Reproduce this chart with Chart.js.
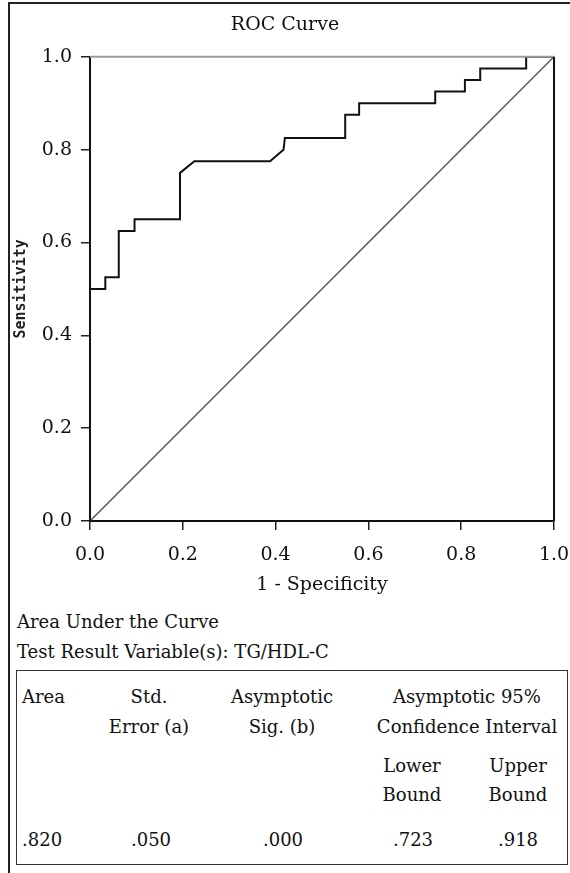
<!DOCTYPE html>
<html>
<head>
<meta charset="utf-8">
<script src="https://cdn.jsdelivr.net/npm/chart.js@4.4.1/dist/chart.umd.min.js"></script>
<style>
  body { margin: 0; background: #fff; }
  #page { position: relative; width: 570px; height: 873px; overflow: hidden; font-family: "DejaVu Serif", serif; color: #111; }
  #frame { position: absolute; left: 8px; top: 2px; right: 0; bottom: 0; border-left: 2px solid #222; border-top: 2px solid #222; }
  #chartBox { position: absolute; left: 0; top: 0; width: 570px; height: 600px; }
  .t { position: absolute; font-size: 18px; line-height: 22px; white-space: nowrap; }
  .c { transform: translateX(-50%); }
  #auc { position: absolute; left: 16px; top: 670px; width: 552px; height: 195px; border: 1.5px solid #333; box-sizing: border-box; }
</style>
</head>
<body>
<div id="page">
  <div id="frame"></div>
  <div id="chartBox"><canvas id="rocChart"></canvas></div>

  <div class="t" style="left:17px; top:611px;">Area Under the Curve</div>
  <div class="t" style="left:17px; top:641px;">Test Result Variable(s): TG/HDL-C</div>

  <div id="auc"></div>
  <div class="t" style="left:22px; top:686px;">Area</div>
  <div class="t c" style="left:149px; top:686px;">Std.</div>
  <div class="t c" style="left:149px; top:716px;">Error (a)</div>
  <div class="t c" style="left:282px; top:686px;">Asymptotic</div>
  <div class="t c" style="left:282px; top:716px;">Sig. (b)</div>
  <div class="t c" style="left:467px; top:686px;">Asymptotic 95%</div>
  <div class="t c" style="left:467px; top:716px;">Confidence Interval</div>
  <div class="t c" style="left:412px; top:755px;">Lower</div>
  <div class="t c" style="left:412px; top:784px;">Bound</div>
  <div class="t c" style="left:518px; top:755px;">Upper</div>
  <div class="t c" style="left:518px; top:784px;">Bound</div>
  <div class="t" style="left:22px; top:829px;">.820</div>
  <div class="t c" style="left:151px; top:829px;">.050</div>
  <div class="t c" style="left:283px; top:829px;">.000</div>
  <div class="t c" style="left:413px; top:829px;">.723</div>
  <div class="t c" style="left:518px; top:829px;">.918</div>
</div>

<script>
// ROC curve points (1 - specificity, sensitivity)
const fpr = [0, 0, 0.033, 0.033, 0.062, 0.062, 0.096, 0.096, 0.194, 0.194, 0.225, 0.388, 0.417, 0.420,
             0.550, 0.550, 0.580, 0.580, 0.744, 0.744, 0.808, 0.808, 0.841, 0.841, 0.940, 0.940, 1.0];
const tpr = [0, 0.5, 0.5, 0.525, 0.525, 0.625, 0.625, 0.65, 0.65, 0.75, 0.775, 0.775, 0.8, 0.825,
             0.825, 0.875, 0.875, 0.9, 0.9, 0.925, 0.925, 0.95, 0.95, 0.975, 0.975, 1.0, 1.0];
// reference diagonal
const refX = [0, 1];
const refY = [0, 1];
const tickValues = [0, 0.2, 0.4, 0.6, 0.8, 1.0];

const serif = 'DejaVu Serif';

// top frame line is grey, right one black
const frameLines = {
    id: 'frameLines',
    afterDatasetsDraw(chart) {
        const { ctx, chartArea: a } = chart;
        ctx.save();
        ctx.lineWidth = 2;
        ctx.strokeStyle = '#9a9a9a';
        ctx.beginPath();
        ctx.moveTo(a.left, a.top);
        ctx.lineTo(a.right, a.top);
        ctx.stroke();
        ctx.strokeStyle = '#111';
        ctx.beginPath();
        ctx.moveTo(a.right, a.top);
        ctx.lineTo(a.right, a.bottom);
        ctx.stroke();
        ctx.restore();
    }
};

const rocCtx = document.getElementById('rocChart').getContext('2d');
new Chart(rocCtx, {
    type: 'scatter',
    data: {
        datasets: [{
            label: 'Reference',
            data: refX.map((x, i) => ({ x: x, y: refY[i] })),
            showLine: true,
            borderColor: '#555',
            borderWidth: 1.5,
            pointRadius: 0,
            order: 2
        }, {
            label: 'TG/HDL-C',
            data: fpr.map((x, i) => ({ x: x, y: tpr[i] })),
            showLine: true,
            borderColor: '#111',
            borderWidth: 2,
            pointRadius: 0,
            tension: 0,
            order: 1
        }]
    },
    options: {
        responsive: true,
        maintainAspectRatio: false,
        animation: false,
        layout: { padding: 0 },
        plugins: {
            legend: { display: false },
            tooltip: { enabled: false },
            title: {
                display: true,
                text: 'ROC Curve',
                color: '#111',
                font: { family: serif, size: 19, weight: 'normal' },
                padding: { top: 14, bottom: 20 }
            }
        },
        scales: {
            x: {
                type: 'linear',
                min: 0,
                max: 1,
                afterBuildTicks: s => { s.ticks = tickValues.map(v => ({ value: v })); },
                afterFit: s => { s.height = 79; s.paddingLeft = 0; s.paddingRight = 16; },
                border: { display: true, color: '#111', width: 2 },
                grid: { drawOnChartArea: false, drawTicks: true, tickLength: 9, color: '#222', lineWidth: 1.5 },
                ticks: {
                    color: '#111',
                    padding: 14,
                    font: { family: serif, size: 19 },
                    callback: v => v.toFixed(1)
                },
                title: {
                    display: true,
                    text: '1 - Specificity',
                    color: '#111',
                    font: { family: serif, size: 19 },
                    padding: { top: 0, bottom: 4 }
                }
            },
            y: {
                type: 'linear',
                min: 0,
                max: 1,
                afterBuildTicks: s => { s.ticks = tickValues.map(v => ({ value: v })); },
                afterFit: s => { s.width = 90; },
                border: { display: true, color: '#111', width: 2 },
                grid: { drawOnChartArea: false, drawTicks: true, tickLength: 9, color: '#222', lineWidth: 1.5 },
                ticks: {
                    color: '#111',
                    padding: 9,
                    font: { family: serif, size: 19 },
                    callback: v => v.toFixed(1)
                },
                title: {
                    display: true,
                    text: 'Sensitivity',
                    color: '#222',
                    font: { family: 'DejaVu Sans Mono', size: 15, weight: 'bold' },
                    padding: { top: 12, bottom: 0 }
                }
            }
        }
    },
    plugins: [frameLines]
});
</script>
</body>
</html>
